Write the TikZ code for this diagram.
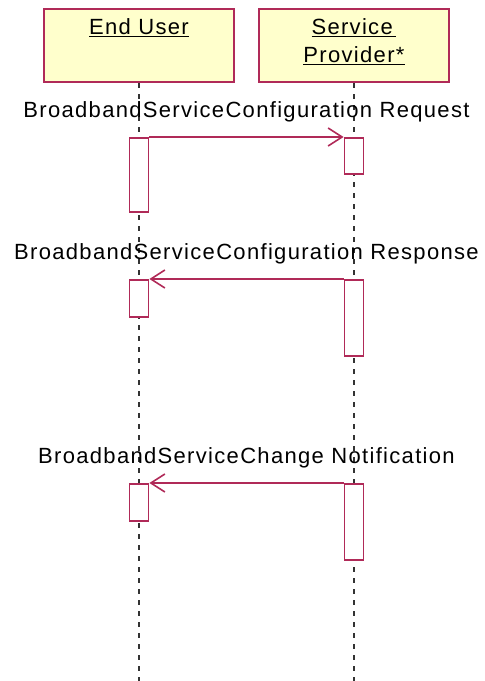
\documentclass[tikz,border=0pt]{standalone}
\usepackage{fontspec}
\setmainfont{Liberation Sans}[LetterSpace=6]
\usepackage{tikz}
\usetikzlibrary{positioning, calc, arrows.meta}

\definecolor{umlred}{RGB}{176,42,88}
\definecolor{umlfill}{RGB}{255,255,204}

\tikzset{
  objbox/.style={draw=umlred, fill=umlfill, line width=2pt, minimum width=190pt, minimum height=73pt, anchor=north, inner sep=0pt},
  objname/.style={anchor=north, align=center, font=\fontsize{22}{28}\selectfont},
  activation/.style={draw=umlred, fill=white, line width=1.8pt, minimum width=19pt, anchor=north, inner sep=0pt},
  lifeline/.style={black!80, line width=1.6pt, dash pattern=on 5pt off 6pt},
  msg/.style={draw=umlred, line width=1.8pt, -{Straight Barb[length=14pt,width=18pt,line width=1.6pt]}},
  msglabel/.style={anchor=base, font=\fontsize{22}{26}\selectfont}
}

\begin{document}
\begin{tikzpicture}[x=1pt, y=1pt]
    \useasboundingbox (0,0) rectangle (485,-681);

    % Objects
    \node[objbox] (user) at (139,-8) {};
    \node[objname, yshift=-7pt] (username) at (user.north) {\underline{End User}};
    \node[objbox] (provider) at (354,-8) {};
    \node[objname, yshift=-7pt] (providername) at (provider.north) {\underline{Service\,}\\\underline{Provider*}};

    % Lifelines
    \coordinate (userend) at (139,-681);
    \coordinate (providerend) at (354,-681);
    \draw[lifeline] (user.south) -- (userend);
    \draw[lifeline] (provider.south) -- (providerend);

    % Activations
    \node[activation, minimum height=74pt] (ua1) at (139,-137) {};
    \node[activation, minimum height=36pt] (pa1) at (354,-137) {};
    \node[activation, minimum height=37pt] (ua2) at (139,-279) {};
    \node[activation, minimum height=76pt] (pa2) at (354,-279) {};
    \node[activation, minimum height=37pt] (ua3) at (139,-483) {};
    \node[activation, minimum height=76pt] (pa3) at (354,-483) {};

    % Messages
    \draw[msg] (ua1.north east) -- (pa1.north west);
    \node[msglabel] (m1) at ($(ua1.north east)!0.5!(pa1.north west)+(0,20)$) {BroadbandServiceConfiguration Request};

    \draw[msg] (pa2.north west) -- (ua2.north east);
    \node[msglabel] (m2) at ($(ua2.north east)!0.5!(pa2.north west)+(0,20)$) {BroadbandServiceConfiguration Response};

    \draw[msg] (pa3.north west) -- (ua3.north east);
    \node[msglabel] (m3) at ($(ua3.north east)!0.5!(pa3.north west)+(0,20)$) {BroadbandServiceChange Notification};
\end{tikzpicture}
\end{document}
